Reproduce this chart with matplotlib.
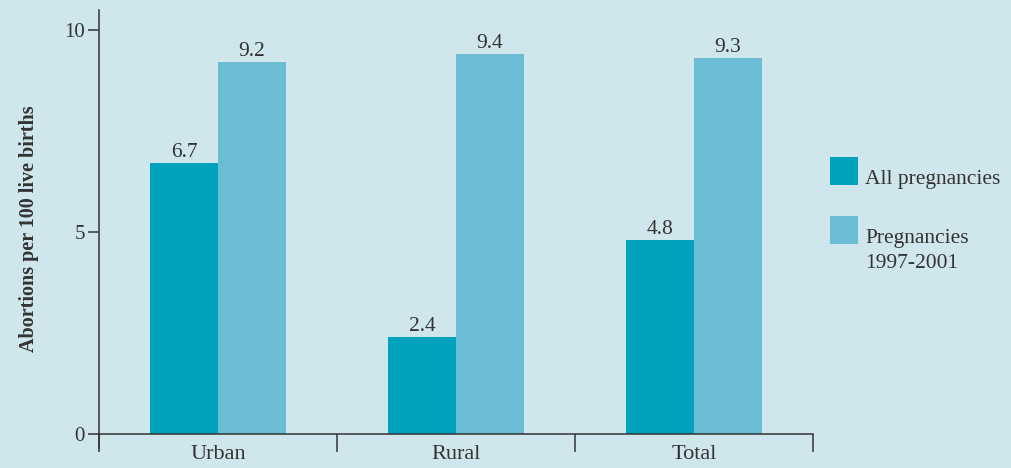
import matplotlib
matplotlib.use("Agg")
import matplotlib.pyplot as plt
import numpy as np
from matplotlib.patches import Rectangle

categories = ["Urban", "Rural", "Total"]
series_names = ["All pregnancies", "Pregnancies\n1997-2001"]
all_preg = [6.7, 2.4, 4.8]
preg_9701 = [9.2, 9.4, 9.3]
yticks = [0, 5, 10]

BG = "#cfe6ec"
C1 = "#00a2be"
C2 = "#6abdd2"
TXT = "#333333"

plt.rcParams['font.family'] = ['Liberation Serif', 'DejaVu Serif']

fig = plt.figure(figsize=(10.12, 4.68), dpi=100)
fig.patch.set_facecolor(BG)
W, H = 1012, 468
ax = fig.add_axes([99 / W, (H - 448) / H, (813 - 99) / W, (448 - 10) / H])
ax.set_facecolor(BG)

x = np.arange(len(categories))
bw = 0.286
b1 = ax.bar(x - bw / 2, all_preg, bw, color=C1, linewidth=0, zorder=2)
b2 = ax.bar(x + bw / 2, preg_9701, bw, color=C2, linewidth=0, zorder=2)
for bars, vals in ((b1, all_preg), (b2, preg_9701)):
    for r, v in zip(bars, vals):
        ax.annotate(f"{v:.1f}", (r.get_x() + r.get_width() / 2, v), xytext=(0, 1),
                    textcoords="offset points", ha="center", va="bottom",
                    fontsize=15.5, color=TXT)

ax.set_xlim(-0.5, len(categories) - 0.5)
ax.set_ylim(-0.35, 10.5)
ax.spines['top'].set_visible(False)
ax.spines['right'].set_visible(False)
ax.spines['bottom'].set_position(('data', 0))
for s in ('left', 'bottom'):
    ax.spines[s].set_color(TXT)
    ax.spines[s].set_linewidth(1.1)

ax.set_yticks(yticks)
ax.set_yticklabels([str(t) for t in yticks], fontsize=15, color=TXT)
ax.tick_params(axis='y', length=8, width=1.1, color=TXT, pad=2)

ax.set_xticks(x)
ax.set_xticklabels(categories, fontsize=16, color=TXT)
ax.set_xticks(np.arange(len(categories) + 1) - 0.5, minor=True)
ax.tick_params(axis='x', which='major', length=0, pad=8)
ax.tick_params(axis='x', which='minor', length=13, width=1.1, color=TXT, direction='out')

ax.set_ylabel("Abortions per 100 live births", fontsize=14.5, fontweight='bold',
              color=TXT, labelpad=18)

# legend
legend_items = [(157, C1, series_names[0]), (216, C2, series_names[1])]
for ytop, col, lab in legend_items:
    fig.patches.append(Rectangle((830 / W, (H - ytop - 28) / H), 28 / W, 28 / H,
                                 transform=fig.transFigure, facecolor=col,
                                 edgecolor='none'))
    fig.text(865 / W, (H - ytop - 13) / H, lab, fontsize=15.5, color=TXT,
             ha='left', va='top', linespacing=1.45)

fig.savefig("out.png", dpi=100, facecolor=BG)
